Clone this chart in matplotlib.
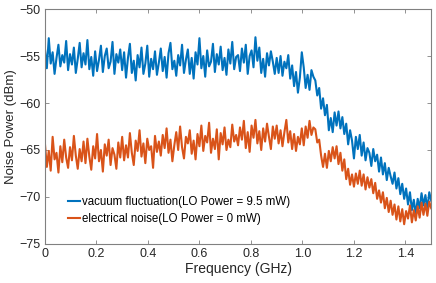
import numpy as np
import matplotlib
matplotlib.use("Agg")
import matplotlib.pyplot as plt

plt.rcParams['font.family'] = ['Liberation Sans', 'DejaVu Sans']

# Frequency range (GHz) and sampled noise power (dBm)
freq_start, freq_stop = 0.0, 1.5

vacuum_dbm = [
    -54.2, -56.3, -53.1, -55.8, -54.6, -56.9, -55.2, -53.8, -56.1, -54.9, -55.7, -53.4, -56.5, -54.8, -55.9, -54.1, -56.8, -55.3, -53.6, -56.2,
    -54.7, -55.9, -53.3, -56.4, -55.1, -57.1, -54.5, -56.6, -55.4, -53.9, -56.7, -55.0, -54.2, -56.3, -55.6, -53.5, -56.9, -54.8, -55.7, -54.3,
    -56.5, -54.6, -57.3, -55.2, -53.7, -56.8, -55.5, -57.6, -54.9, -56.2, -54.1, -56.9, -55.8, -53.9, -57.2, -55.3, -56.4, -54.5, -57.0, -55.7,
    -54.2, -56.6, -55.1, -57.3, -54.7, -53.6, -56.4, -55.5, -57.1, -54.9, -56.0, -53.8, -56.8, -55.4, -54.3, -56.9, -55.2, -57.4, -54.6, -55.9,
    -53.1, -56.3, -55.0, -57.2, -54.4, -56.1, -55.6, -53.7, -56.7, -54.8, -55.9, -54.0, -56.5, -55.2, -57.0, -54.3, -55.8, -53.5, -56.4, -55.1,
    -54.9, -56.6, -54.2, -55.7, -53.8, -56.9, -55.0, -54.4, -56.2, -53.0, -55.5, -54.1, -56.8, -55.3, -57.2, -54.7, -56.0, -54.5, -55.6, -56.9,
    -55.2, -56.8, -55.0, -57.1, -55.6, -56.3, -54.9, -57.4, -56.0, -58.2, -56.7, -58.9, -57.3, -54.6, -56.2, -58.4, -57.0, -58.6, -56.5, -57.2,
    -57.6, -59.2, -58.4, -60.6, -59.5, -61.3, -60.2, -62.9, -61.6, -63.1, -61.0, -62.4, -60.9, -62.7, -61.5, -63.3, -62.2, -64.4, -62.9, -64.0,
    -65.9, -63.6, -64.9, -63.4, -65.6, -64.2, -66.1, -64.8, -65.3, -66.7, -64.9, -66.2, -65.5, -67.3, -65.8, -67.6, -66.4, -68.2, -66.9, -67.8,
    -68.6, -67.4, -69.1, -68.0, -69.7, -68.6, -70.2, -69.1, -70.8, -69.5, -71.4, -70.3, -71.9, -70.2, -71.2, -69.6, -70.9, -69.8, -71.3, -69.5, -70.4,
]

electrical_dbm = [
    -64.3, -66.8, -65.1, -67.2, -63.6, -66.0, -65.3, -67.4, -64.6, -66.3, -63.9, -65.8, -66.9, -64.7, -66.1, -63.5, -65.6, -67.0, -64.9, -66.2,
    -64.1, -66.4, -63.8, -65.7, -67.1, -64.6, -65.9, -63.3, -66.2, -65.0, -67.3, -64.4, -65.6, -63.9, -66.6, -64.8, -65.5, -67.0, -64.2, -65.8,
    -63.6, -66.1, -64.5, -65.8, -63.2, -65.3, -66.6, -64.0, -65.1, -62.9, -65.7, -64.3, -66.4, -63.8, -65.0, -64.6, -66.9, -63.5, -65.2, -64.1,
    -65.6, -63.4, -64.8, -62.7, -65.3, -63.9, -66.2, -64.5, -63.1, -65.0, -62.5, -64.7, -65.9, -63.6, -64.3, -62.9, -65.4, -64.0, -66.0, -63.3,
    -64.6, -62.4, -65.1, -63.5, -64.2, -62.1, -65.3, -63.8, -64.9, -62.8, -66.0, -63.2, -64.4, -62.6, -65.0, -63.9, -64.7, -62.3, -64.1, -63.4,
    -64.5, -62.6, -63.9, -61.9, -64.8, -63.1, -65.2, -62.4, -63.7, -61.8, -64.3, -63.0, -65.0, -62.7, -64.1, -62.2, -63.6, -64.9, -62.5, -63.8,
    -62.4, -64.3, -62.9, -64.6, -63.1, -61.8, -64.2, -63.0, -64.9, -63.3, -65.1, -63.6, -64.4, -62.7, -64.5, -62.5, -63.7, -61.9, -63.4, -62.6,
    -62.8, -64.2, -63.9, -65.6, -66.8, -65.4, -66.9, -65.1, -66.2, -64.7, -65.9, -64.6, -66.5, -65.3, -67.2, -66.0, -68.1, -67.0, -68.7, -67.6,
    -68.9, -67.5, -68.6, -67.2, -68.8, -67.6, -69.2, -67.9, -69.0, -68.1, -69.6, -68.5, -70.2, -69.3, -70.6, -69.5, -71.2, -70.1, -71.6, -70.4,
    -71.9, -70.8, -72.4, -71.0, -72.6, -71.3, -72.9, -71.5, -72.3, -70.9, -72.7, -71.4, -72.5, -71.0, -72.2, -70.6, -71.9, -70.7, -72.0, -70.5, -71.2,
]

series_labels = ["vacuum fluctuation(LO Power = 9.5 mW)", "electrical noise(LO Power = 0 mW)"]
x_ticks = [0, 0.2, 0.4, 0.6, 0.8, 1.0, 1.2, 1.4]
x_tick_labels = ["0", "0.2", "0.4", "0.6", "0.8", "1.0", "1.2", "1.4"]
y_ticks = [-75, -70, -65, -60, -55, -50]

freq_v = np.linspace(freq_start, freq_stop, len(vacuum_dbm))
freq_e = np.linspace(freq_start, freq_stop, len(electrical_dbm))

fig = plt.figure(figsize=(4.36, 2.83), dpi=100)
ax = fig.add_axes([0.103, 0.138, 0.886, 0.830])

ax.plot(freq_v, vacuum_dbm, color='#0072BD', lw=1.5, label=series_labels[0])
ax.plot(freq_e, electrical_dbm, color='#D95319', lw=1.5, label=series_labels[1])

ax.set_xlim(0, 1.5)
ax.set_ylim(-75, -50)
ax.set_xticks(x_ticks)
ax.set_xticklabels(x_tick_labels)
ax.set_yticks(y_ticks)

txt = '#262626'
for s in ax.spines.values():
    s.set_color('#808080')
    s.set_linewidth(0.8)
ax.tick_params(direction='in', top=True, right=True, length=3, width=0.6,
               color='#808080', labelcolor=txt, labelsize=9, pad=3)
ax.set_xlabel('Frequency (GHz)', fontsize=10, color=txt, labelpad=1)
ax.set_ylabel('Noise Power (dBm)', fontsize=9.5, color=txt, labelpad=2)

leg = ax.legend(loc='lower left', bbox_to_anchor=(0.06, 0.08), frameon=False,
                fontsize=8.3, handlelength=1.0, handletextpad=0.25, borderpad=0,
                labelspacing=0.45, borderaxespad=0)
for line in leg.get_lines():
    line.set_linewidth(1.5)

fig.savefig('out.png', dpi=100)
